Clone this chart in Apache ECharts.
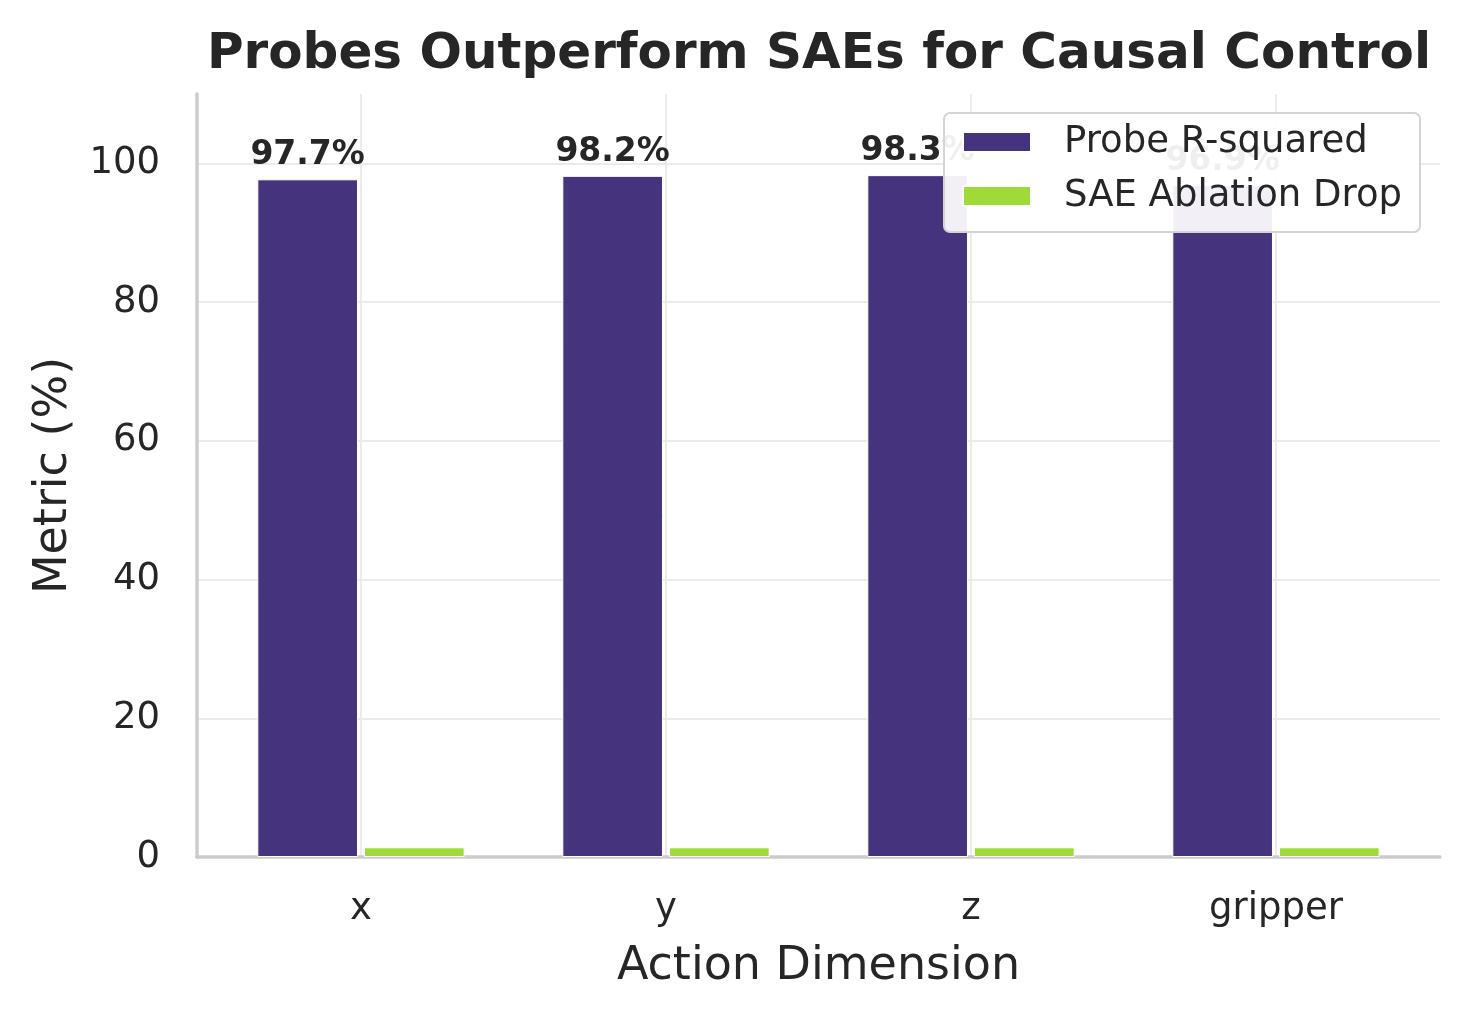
<!DOCTYPE html>
<html>
<head>
<meta charset="utf-8">
<script src="https://cdn.jsdelivr.net/npm/echarts@6/dist/echarts.min.js"></script>
<style>
html,body{margin:0;padding:0;background:#fff;}
#chart{width:1470px;height:1020px;}
</style>
</head>
<body>
<div id="chart"></div>
<script>
const categories = ['x', 'y', 'z', 'gripper'];
const probeR2 = [97.7, 98.2, 98.3, 96.9];
const saeDrop = [1.4, 1.4, 1.4, 1.4];
const seriesNames = ['Probe R-squared', 'SAE Ablation Drop'];
const yTicks = [0, 20, 40, 60, 80, 100];

const FONT = 'DejaVu Sans';
const TXT = '#262626';
const SPINE = '#cccccc';
const GRIDC = '#ebebeb';
const chart = echarts.init(document.getElementById('chart'), null, {renderer: 'canvas'});
chart.setOption({
  backgroundColor: '#ffffff',
  animation: false,
  textStyle: {fontFamily: FONT, color: TXT},
  title: {
    text: 'Probes Outperform SAEs for Causal Control',
    left: 814, top: 25, textAlign: 'center',
    textStyle: {fontFamily: FONT, fontWeight: 'bold', fontSize: 50, lineHeight: 50, color: TXT}
  },
  legend: {
    orient: 'vertical',
    left: 944, top: 113,
    padding: [10, 18, 17, 18],
    itemGap: 16,
    itemWidth: 68, itemHeight: 20,
    icon: 'rect',
    backgroundColor: 'rgba(255,255,255,0.93)',
    borderColor: '#d4d4d4', borderWidth: 2, borderRadius: 6,
    textStyle: {fontFamily: FONT, fontSize: 37, lineHeight: 38, color: TXT, padding: [0, 0, 0, 28]},
    data: seriesNames
  },
  grid: [
    {left: 208.5, right: 41.5, top: 94, bottom: 163, containLabel: false},
    {left: 197, right: 30, top: 94, bottom: 163, containLabel: false}
  ],
  xAxis: [
    {
      type: 'category', gridIndex: 0,
      data: categories,
      name: 'Action Dimension', nameLocation: 'middle', nameGap: 87,
      nameTextStyle: {fontFamily: FONT, fontSize: 46, lineHeight: 46, color: TXT},
      axisLine: {show: false},
      axisTick: {show: false, alignWithLabel: true},
      axisLabel: {fontFamily: FONT, fontSize: 37, lineHeight: 37, color: TXT, margin: 34},
      splitLine: {show: true, alignWithLabel: true, lineStyle: {color: GRIDC, width: 2}}
    },
    {
      type: 'value', gridIndex: 1, min: 0, max: 1,
      axisLine: {show: true, onZero: false, lineStyle: {color: SPINE, width: 3.5}},
      axisTick: {show: false}, axisLabel: {show: false}, splitLine: {show: false}
    }
  ],
  yAxis: [
    {
      type: 'value', gridIndex: 0, min: 0, max: 110, interval: 20,
      axisLine: {show: false}, axisTick: {show: false}, axisLabel: {show: false},
      splitLine: {show: false}
    },
    {
      type: 'value', gridIndex: 1, min: 0, max: 110, interval: 20,
      name: 'Metric (%)', nameLocation: 'middle', nameGap: 120,
      nameTextStyle: {fontFamily: FONT, fontSize: 46, lineHeight: 46, color: TXT},
      axisLine: {show: true, onZero: false, lineStyle: {color: SPINE, width: 3.5}},
      axisTick: {show: false},
      axisLabel: {fontFamily: FONT, fontSize: 37, color: TXT, margin: 37, showMaxLabel: false,
        formatter: function (v) { return yTicks.indexOf(v) >= 0 ? String(v) : ''; }},
      splitLine: {show: true, showMaxLine: false, lineStyle: {color: GRIDC, width: 2}}
    }
  ],
  series: [
    {
      name: seriesNames[0], type: 'bar', data: probeR2,
      xAxisIndex: 0, yAxisIndex: 0,
      barWidth: '33%', barGap: '6%',
      itemStyle: {color: '#46337e', borderColor: '#ffffff', borderWidth: 1},
      label: {show: true, position: 'top', distance: 7, formatter: '{c}%',
        fontFamily: FONT, fontWeight: 'bold', fontSize: 33, color: TXT}
    },
    {
      name: seriesNames[1], type: 'bar', data: saeDrop,
      xAxisIndex: 0, yAxisIndex: 0,
      barWidth: '33%', barGap: '6%',
      itemStyle: {color: '#a0da39', borderColor: '#ffffff', borderWidth: 1}
    }
  ]
});
</script>
</body>
</html>
